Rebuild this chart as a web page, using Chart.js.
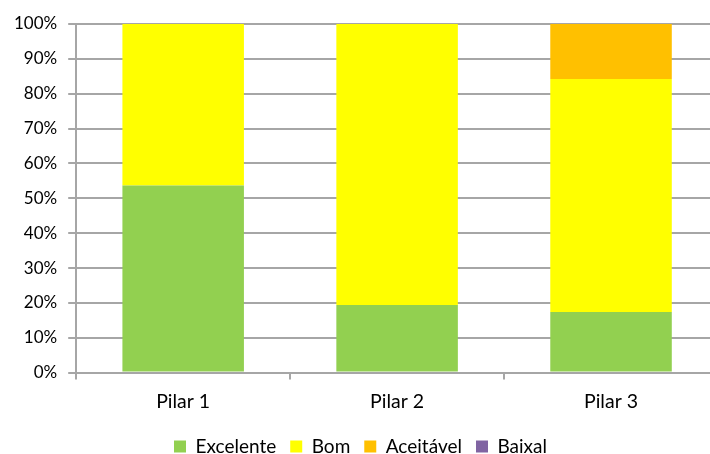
<!DOCTYPE html>
<html>
<head>
<meta charset="utf-8">
<script src="https://cdn.jsdelivr.net/npm/chart.js@4"></script>
<style>
  html, body { margin: 0; padding: 0; overflow: hidden; background: #fff; }
  #wrap { width: 718px; height: 454px; }
</style>
</head>
<body>
<div id="wrap"><canvas id="chart" width="718" height="454"></canvas></div>
<script>
// Values (percent of each pillar)
const categories = ['Pilar 1', 'Pilar 2', 'Pilar 3'];
const excelente = [53.7, 19.4, 17.4];
const bom = [46.3, 80.6, 66.8];
const aceitavel = [0, 0, 15.8];
const baixal = [0, 0, 0];
const yTicks = [0, 10, 20, 30, 40, 50, 60, 70, 80, 90, 100];

const family = 'Lato, "Open Sans", sans-serif';
const textColor = '#000';
const gridGray = '#a6a6a6';

new Chart(document.getElementById('chart').getContext('2d'), {
  type: 'bar',
  data: {
    labels: categories,
    datasets: [
      { label: 'Excelente', data: excelente, backgroundColor: '#92D050' },
      { label: 'Bom', data: bom, backgroundColor: '#FFFF00' },
      { label: 'Aceitável', data: aceitavel, backgroundColor: '#FFC000' },
      { label: 'Baixal', data: baixal, backgroundColor: '#8064A2' }
    ]
  },
  options: {
    responsive: false,
    animation: false,
    barPercentage: 0.568,
    categoryPercentage: 1,
    // the original plot runs a few pixels past the right edge of the picture
    layout: { padding: { top: 24, left: 3, right: 0, bottom: -12 } },
    plugins: {
      tooltip: { enabled: false },
      legend: {
        position: 'bottom',
        labels: {
          font: { family: family, size: 19 },
          color: textColor,
          boxWidth: 12,
          boxHeight: 12,
          padding: 14
        }
      }
    },
    scales: {
      x: {
        stacked: true,
        grid: { drawOnChartArea: false, drawTicks: true, tickLength: 7, color: gridGray, lineWidth: 2 },
        border: { display: false },
        ticks: { font: { family: family, size: 19.5 }, color: textColor, padding: 10 }
      },
      y: {
        stacked: true,
        min: 0,
        max: 100,
        afterBuildTicks: axis => { axis.ticks = yTicks.map(v => ({ value: v })); },
        grid: { color: gridGray, lineWidth: 2, tickLength: 8 },
        border: { color: gridGray, width: 2 },
        ticks: { font: { family: family, size: 17 }, color: textColor, padding: 11, callback: v => v + '%' }
      }
    }
  }
});
</script>
</body>
</html>
